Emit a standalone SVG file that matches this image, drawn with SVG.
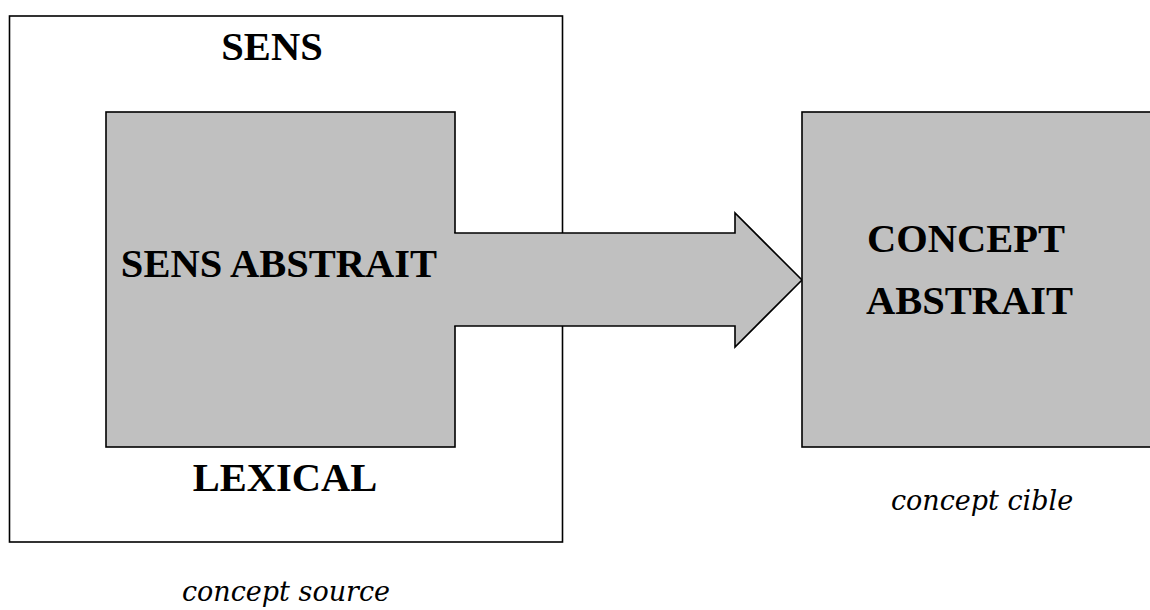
<svg xmlns="http://www.w3.org/2000/svg" width="1150" height="610" viewBox="0 0 1150 610">
<style>
.box{stroke:#000;stroke-width:1.6}
.white{fill:#fff}
.gray{fill:#c0c0c0}
.edge{fill:none;stroke:#000;stroke-width:1.6;stroke-linejoin:miter;stroke-linecap:square}
.b{font-family:"Liberation Serif","Times New Roman",serif;font-weight:bold;font-size:40.5px;fill:#000}
.i{font-family:"DejaVu Serif",Georgia,serif;font-style:italic;font-size:27px;fill:#000}
</style>
<rect width="1150" height="610" fill="#fff"/>
<g id="sens-lexical">
<rect class="box white" x="9.5" y="16" width="553" height="526"/>
<text class="b" x="272" y="60" text-anchor="middle">SENS</text>
<text class="b" x="285" y="491" text-anchor="middle">LEXICAL</text>
</g>
<g id="sens-abstrait">
<rect class="box gray" x="106" y="112" width="349" height="335"/>
</g>
<g id="connectors">
<polygon class="gray" points="453.5,233 735,233 735,213 802,280 735,347 735,326 453.5,326"/>
<polyline class="edge" points="455,233 735,233 735,213 802,280 735,347 735,326 455,326"/>
</g>
<g id="sens-abstrait-label">
<text class="b" x="279" y="277" text-anchor="middle">SENS ABSTRAIT</text>
</g>
<g id="concept-abstrait">
<rect class="box gray" x="802" y="112" width="360" height="335"/>
<text class="b" x="867" y="252">CONCEPT</text>
<text class="b" x="866" y="314">ABSTRAIT</text>
</g>
<g id="labels">
<text class="i" x="982" y="510" text-anchor="middle">concept cible</text>
<text class="i" x="286" y="601" text-anchor="middle">concept source</text>
</g>
</svg>
